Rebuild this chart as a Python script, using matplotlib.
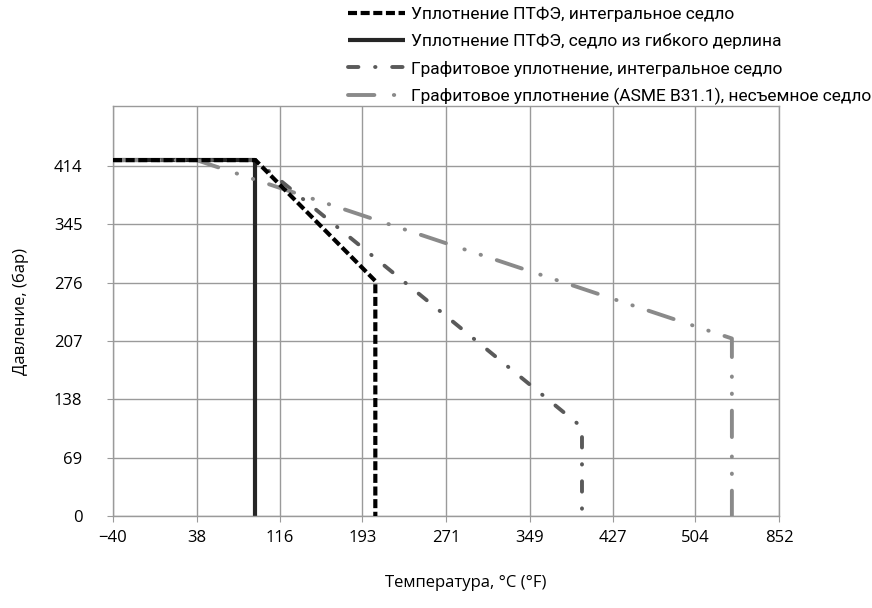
import matplotlib
matplotlib.use('Agg')
import matplotlib.pyplot as plt

# temperature tick labels (°C), evenly spaced on the chart
x_ticks = [-40, 38, 116, 193, 271, 349, 427, 504, 582]
x_tick_labels = ['\u221240', '38', '116', '193', '271', '349', '427', '504', '852']
y_ticks = [0, 69, 138, 207, 276, 345, 414]

# series: (temperature °C, pressure bar)
ptfe_int_t = [-40, 93, 205, 205]
ptfe_int_p = [421, 421, 278, 0]
delrin_t = [-40, 93, 93]
delrin_p = [421, 421, 0]
graph_int_t = [-40, 93, 398, 398]
graph_int_p = [421, 421, 105, 0]
asme_t = [-40, 38, 538, 538]
asme_p = [421, 421, 210, 0]

labels = [
    'Уплотнение ПТФЭ, интегральное седло',
    'Уплотнение ПТФЭ, седло из гибкого дерлина',
    'Графитовое уплотнение, интегральное седло',
    'Графитовое уплотнение (ASME B31.1), несъемное седло',
]

plt.rcParams['font.family'] = ['Open Sans', 'DejaVu Sans']
plt.rcParams['lines.scale_dashes'] = False

fig = plt.figure(figsize=(8.72, 6.08), dpi=100)
ax = fig.add_axes([113 / 872, 1 - 516 / 608, 666 / 872, 410 / 608])

grid_c = '#9a9a9a'
for v in x_ticks:
    ax.axvline(v, color=grid_c, lw=1, zorder=0)
for v in y_ticks:
    ax.axhline(v, color=grid_c, lw=1, zorder=0)

l2, = ax.plot(delrin_t, delrin_p, color='#262626', lw=3.0, solid_capstyle='butt', zorder=2)
l3, = ax.plot(graph_int_t, graph_int_p, color='#5a5a5a', lw=2.8,
              dashes=(7.5, 12, 0.3, 12), dash_capstyle='round', zorder=3)
l4, = ax.plot(asme_t, asme_p, color='#8a8a8a', lw=2.8,
              dashes=(19, 14, 0.3, 12, 0.3, 12), dash_capstyle='round', zorder=4)
l1, = ax.plot(ptfe_int_t, ptfe_int_p, color='black', lw=3.0,
              dashes=(6.5, 2.6), dash_capstyle='butt', zorder=5)

ax.set_xlim(-40, 582)
ax.set_ylim(0, 485)
ax.set_xticks(x_ticks)
ax.set_xticklabels(x_tick_labels)
ax.set_yticks(y_ticks)
ax.tick_params(axis='both', direction='out', length=4, color=grid_c, labelsize=12)
ax.tick_params(axis='y', pad=18)
ax.tick_params(axis='x', pad=6)
for s in ax.spines.values():
    s.set_color(grid_c)
    s.set_linewidth(1)

ax.set_ylabel('Давление, (бар)', fontsize=12, labelpad=18)
fig.text(466 / 872, 1 - 583 / 608, 'Температура, °C (°F)', ha='center', va='center', fontsize=12)

leg = fig.legend([l1, l2, l3, l4], labels, loc='upper left',
                 bbox_to_anchor=(348 / 872, 1 - 7 / 608), frameon=False,
                 handlelength=3.3, handletextpad=0.3, labelspacing=0.64,
                 borderpad=0, borderaxespad=0,
                 prop={'family': 'Roboto', 'size': 12.5})

fig.savefig('out.png', dpi=100)
